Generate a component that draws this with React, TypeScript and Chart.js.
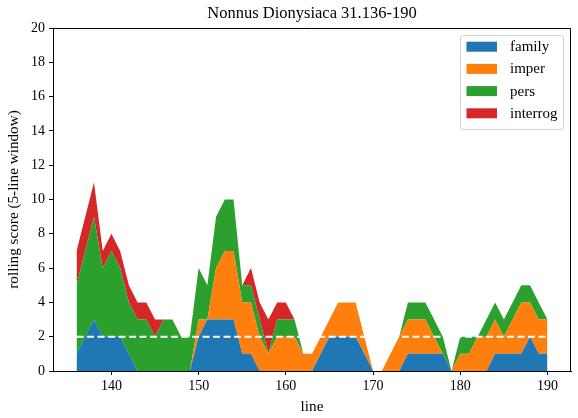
import React, { useEffect, useRef } from "react";
import { Chart, registerables } from "chart.js";

Chart.register(...registerables);

// Line numbers of the passage (x axis)
const lines = [
  136, 137, 138, 139, 140, 141, 142, 143, 144, 145,
  146, 147, 148, 149, 150, 151, 152, 153, 154, 155,
  156, 157, 158, 159, 160, 161, 162, 163, 164, 165,
  166, 167, 168, 169, 170, 171, 172, 173, 174, 175,
  176, 177, 178, 179, 180, 181, 182, 183, 184, 185,
  186, 187, 188, 189, 190,
];

// Rolling (5-line window) scores per category
const family = [
  1, 2, 3, 2, 2, 2, 1, 0, 0, 0,
  0, 0, 0, 0, 2, 3, 3, 3, 3, 1,
  1, 0, 0, 0, 0, 0, 0, 0, 1, 2,
  2, 2, 2, 1, 0, 0, 0, 0, 1, 1,
  1, 1, 1, 0, 0, 0, 0, 0, 1, 1,
  1, 1, 2, 1, 1,
];
const imper = [
  0, 0, 0, 0, 0, 0, 0, 0, 0, 0,
  0, 0, 0, 0, 1, 0, 3, 4, 4, 3,
  3, 2, 1, 2, 2, 2, 1, 1, 1, 1,
  2, 2, 2, 1, 0, 0, 1, 2, 2, 2,
  2, 1, 0, 0, 1, 1, 2, 2, 2, 1,
  2, 3, 2, 2, 2,
];
const pers = [
  4, 5, 6, 4, 5, 4, 3, 3, 3, 2,
  3, 3, 2, 2, 3, 2, 3, 3, 3, 1,
  1, 1, 0, 1, 1, 1, 0, 0, 0, 0,
  0, 0, 0, 0, 0, 0, 0, 0, 1, 1,
  1, 1, 1, 0, 1, 1, 0, 1, 1, 1,
  1, 1, 1, 1, 0,
];
const interrog = [
  2, 2, 2, 1, 1, 1, 1, 1, 1, 1,
  0, 0, 0, 0, 0, 0, 0, 0, 0, 0,
  1, 1, 2, 1, 1, 0, 0, 0, 0, 0,
  0, 0, 0, 0, 0, 0, 0, 0, 0, 0,
  0, 0, 0, 0, 0, 0, 0, 0, 0, 0,
  0, 0, 0, 0, 0,
];

const seriesNames = ["family", "imper", "pers", "interrog"];
const seriesColors = ["#1f77b4", "#ff7f0e", "#2ca02c", "#d62728"];

const xTicks = [140, 150, 160, 170, 180, 190];
const yTicks = [0, 2, 4, 6, 8, 10, 12, 14, 16, 18, 20];
const thresholdLevel = 2;

const chartTitle = "Nonnus Dionysiaca 31.136-190";
const FONT = "'Liberation Serif', 'DejaVu Serif', serif";

const frameAndLegend = {
  id: "frameAndLegend",
  afterDraw(chart: any) {
    const { ctx, chartArea } = chart;
    ctx.save();
    // top and right spines
    ctx.strokeStyle = "#000";
    ctx.lineWidth = 1;
    const top = Math.round(chartArea.top) + 0.5;
    const right = Math.round(chartArea.right) - 0.5;
    ctx.beginPath();
    ctx.moveTo(chartArea.left, top);
    ctx.lineTo(right, top);
    ctx.lineTo(right, chartArea.bottom);
    ctx.stroke();

    // title, centred over the plotting area
    ctx.fillStyle = "#000";
    ctx.font = `16.5px ${FONT}`;
    ctx.textAlign = "center";
    ctx.textBaseline = "middle";
    ctx.fillText(chartTitle, (chartArea.left + chartArea.right) / 2, 13.5);

    // legend box
    const bx = 460.5;
    const by = 35.5;
    const bw = 103;
    const bh = 94;
    const r = 3;
    ctx.beginPath();
    ctx.moveTo(bx + r, by);
    ctx.lineTo(bx + bw - r, by);
    ctx.arcTo(bx + bw, by, bx + bw, by + r, r);
    ctx.lineTo(bx + bw, by + bh - r);
    ctx.arcTo(bx + bw, by + bh, bx + bw - r, by + bh, r);
    ctx.lineTo(bx + r, by + bh);
    ctx.arcTo(bx, by + bh, bx, by + bh - r, r);
    ctx.lineTo(bx, by + r);
    ctx.arcTo(bx, by, bx + r, by, r);
    ctx.closePath();
    ctx.fillStyle = "rgba(255,255,255,0.8)";
    ctx.fill();
    ctx.strokeStyle = "#d0d0d0";
    ctx.stroke();

    ctx.font = `15px ${FONT}`;
    ctx.textBaseline = "middle";
    ctx.textAlign = "left";
    seriesNames.forEach((name, i) => {
      const cy = 46.7 + i * 22.2;
      ctx.fillStyle = seriesColors[i];
      ctx.fillRect(466.5, cy - 5, 30.5, 10);
      ctx.fillStyle = "#000";
      ctx.fillText(name, 510, cy + 0.5);
    });
    ctx.restore();
  },
};

export default function App() {
  const canvasRef = useRef<HTMLCanvasElement | null>(null);

  useEffect(() => {
    if (!canvasRef.current) return;
    const stacks = [family, imper, pers, interrog];
    const areaSets = stacks.map((vals, i) => ({
      label: seriesNames[i],
      data: lines.map((x, j) => ({ x, y: vals[j] })),
      backgroundColor: seriesColors[i],
      borderColor: "rgba(0,0,0,0)",
      borderWidth: 1,
      pointRadius: 0,
      fill: i === 0 ? "origin" : "-1",
      tension: 0,
    }));
    const threshold = {
      label: "threshold",
      data: [
        { x: lines[0], y: thresholdLevel },
        { x: lines[lines.length - 1], y: thresholdLevel },
      ],
      borderColor: "#ffffff",
      borderWidth: 2,
      borderDash: [7, 3.5],
      pointRadius: 0,
      fill: false,
      stack: "ref",
      order: -1,
    };

    const tickFont = { family: FONT, size: 14 };
    const labelFont = { family: FONT, size: 15.2 };

    const chart = new Chart(canvasRef.current, {
      type: "line",
      data: { datasets: [...areaSets, threshold] as any },
      options: {
        animation: false,
        responsive: false,
        maintainAspectRatio: false,
        devicePixelRatio: 1,
        layout: { padding: { left: 0, right: 7, top: 28, bottom: 0 } },
        plugins: {
          legend: { display: false },
          tooltip: { enabled: false },
          title: { display: false },
        },
        scales: {
          x: {
            type: "linear",
            min: 133.3,
            max: 192.7,
            afterBuildTicks: (s: any) => {
              s.ticks = xTicks.map((v) => ({ value: v }));
            },
            afterFit: (s: any) => {
              s.height = 47;
            },
            grid: {
              drawOnChartArea: false,
              tickLength: 4,
              color: "#000",
              tickWidth: 1,
            },
            border: { color: "#000", width: 1 },
            ticks: {
              font: tickFont,
              color: "#000",
              padding: 3,
              maxRotation: 0,
              autoSkip: false,
            },
            title: {
              display: true,
              text: "line",
              color: "#000",
              font: labelFont,
              padding: { top: 0, bottom: 1.5 },
            },
          },
          y: {
            type: "linear",
            stacked: true,
            min: 0,
            max: 20,
            afterBuildTicks: (s: any) => {
              s.ticks = yTicks.map((v) => ({ value: v }));
            },
            afterFit: (s: any) => {
              s.width = 53;
            },
            grid: {
              drawOnChartArea: false,
              tickLength: 4,
              color: "#000",
              tickWidth: 1,
            },
            border: { color: "#000", width: 1 },
            ticks: {
              font: tickFont,
              color: "#000",
              padding: 4,
              autoSkip: false,
            },
            title: {
              display: true,
              text: "rolling score (5-line window)",
              color: "#000",
              font: labelFont,
              padding: { top: 5, bottom: 0 },
            },
          },
        },
      },
      plugins: [frameAndLegend],
    } as any);

    return () => chart.destroy();
  }, []);

  return (
    <div
      style={{
        position: "absolute",
        left: 0,
        top: 0,
        width: 578,
        height: 418,
        background: "#fff",
      }}
    >
      <canvas ref={canvasRef} width={578} height={418} />
    </div>
  );
}
